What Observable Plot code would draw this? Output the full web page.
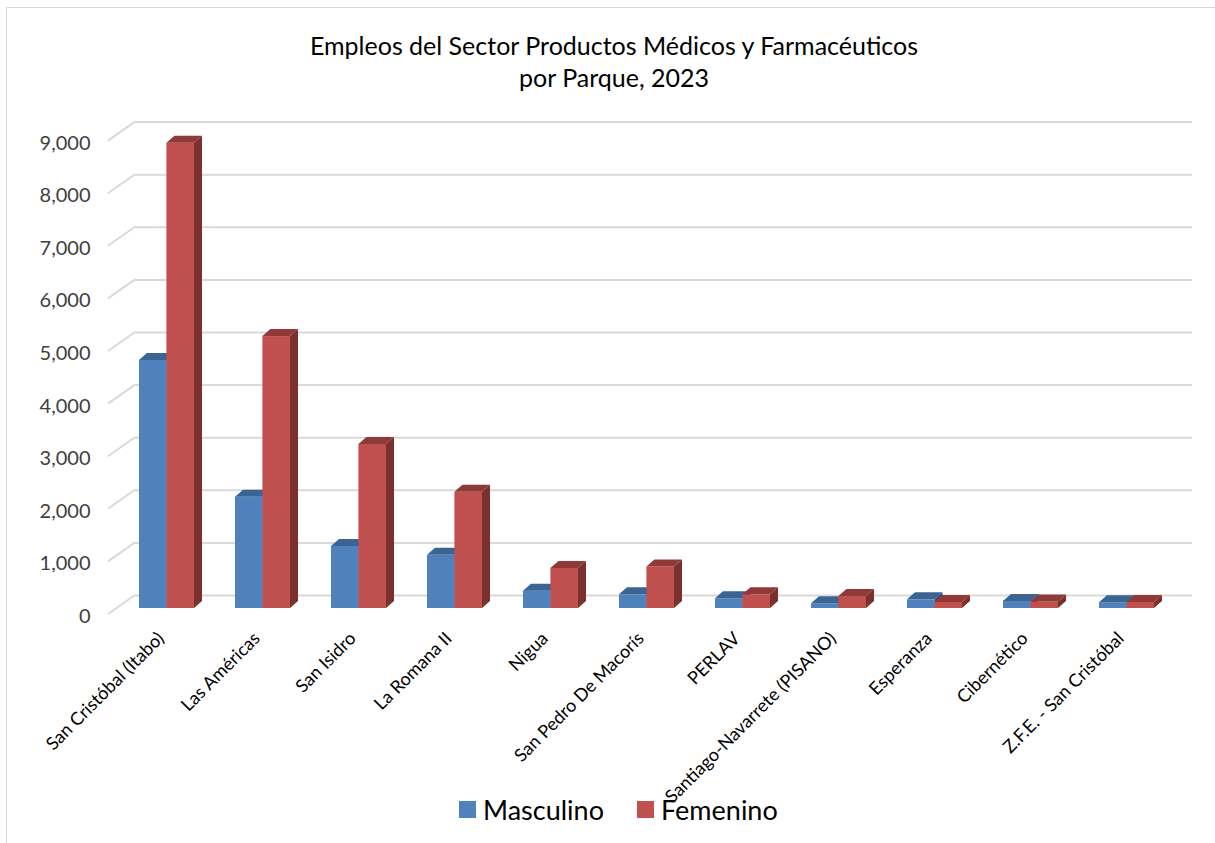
<!DOCTYPE html>
<html>
<head>
<meta charset="utf-8">
<script src="https://cdn.jsdelivr.net/npm/d3@7"></script>
<script src="https://cdn.jsdelivr.net/npm/@observablehq/plot@0.6"></script>
<style>
  html, body { margin: 0; padding: 0; background: #fff; overflow: hidden; }
  body { width: 1215px; height: 843px; position: relative; font-family: Lato, "Open Sans", sans-serif; }
  #border { position: absolute; left: 6px; top: 7px; width: 1400px; height: 1000px;
            border-top: 1px solid #d9d9d9; border-left: 1px solid #d9d9d9; pointer-events: none; }
  #title { height: 100px; box-sizing: border-box; padding-top: 29px; padding-left: 13px; text-align: center;
           font-size: 25px; line-height: 32px; color: #000; }
  #chart svg { display: block; overflow: visible; }
  #legend { height: 43px; position: relative; font-size: 27px; color: #000; }
  .item { position: absolute; top: 1px; display: flex; align-items: center; height: 17px; }
  .sw { width: 17px; height: 17px; display: inline-block; margin-right: 7px; }
</style>
</head>
<body>
<div id="border"></div>
<div id="title">Empleos del Sector Productos Médicos y Farmacéuticos<br>por Parque, 2023</div>
<div id="chart"></div>
<div id="legend">
  <div class="item" style="left:459px"><span class="sw" style="background:#4F81BD"></span><span>Masculino</span></div>
  <div class="item" style="left:637px"><span class="sw" style="background:#C0504D"></span><span>Femenino</span></div>
</div>
<script>
const categories = [
  "San Cristóbal (Itabo)", "Las Américas", "San Isidro", "La Romana II", "Nigua",
  "San Pedro De Macorís", "PERLAV", "Santiago-Navarrete (PISANO)", "Esperanza",
  "Cibernético", "Z.F.E. - San Cristóbal"
];
const masculino = [4715, 2115, 1180, 1010, 330, 260, 185, 90, 165, 135, 110];
const femenino  = [8845, 5170, 3120, 2210, 760, 790, 260, 230, 115, 125, 115];
const yTicks = [0, 1000, 2000, 3000, 4000, 5000, 6000, 7000, 8000, 9000];

const rowsM = categories.map((c, i) => ({parque: c, sexo: "Masculino", valor: masculino[i]}));
const rowsF = categories.map((c, i) => ({parque: c, sexo: "Femenino", valor: femenino[i]}));

const W = 1215, H = 700, mL = 117, mR = 40, mT = 34.6, mB = 192;
const padIn = 0.43;
const step = (W - mL - mR) / categories.length;
const half = step * (1 - padIn) / 2;

const plot = Plot.plot({
  width: W, height: H,
  marginLeft: mL, marginRight: mR, marginTop: mT, marginBottom: mB,
  style: {fontFamily: "Lato, 'Open Sans', sans-serif", background: "transparent", color: "#404040", overflow: "visible"},
  x: {domain: categories, paddingInner: padIn, paddingOuter: padIn / 2, axis: null},
  y: {domain: [0, 9000], axis: null},
  marks: [
    Plot.ruleY(yTicks, {stroke: "#d9d9d9", strokeWidth: 2, dx: 18, dy: -13, insetRight: 1}),
    Plot.axisY(yTicks, {tickSize: 0, tickPadding: 27, dy: 8, tickFormat: d3.format(","), fontSize: 20, label: null}),
    Plot.axisX({tickRotate: -45, tickSize: 0, tickPadding: 27, dx: -6, fontSize: 18, label: null, fill: "#000"}),
    Plot.barY(rowsM, {x: "parque", y: "valor", fill: "#4F81BD", insetRight: half}),
    Plot.barY(rowsF, {x: "parque", y: "valor", fill: "#C0504D", insetLeft: half})
  ]
});
document.getElementById("chart").appendChild(plot);

const svg = d3.select(plot);
const ys = plot.scale("y");

// diagonal floor/wall connectors at the front-left of each gridline
const diag = svg.insert("g", "g");
yTicks.forEach(t => {
  const yy = ys.apply(t);
  diag.append("line")
    .attr("x1", 108).attr("y1", yy + 6)
    .attr("x2", 135).attr("y2", yy - 13)
    .attr("stroke", "#d9d9d9").attr("stroke-width", 2);
});

// pseudo-3D faces for each bar
const DX = 8, DY = -7;
const faceColors = [
  {top: "#3B6393", side: "#2F4E75"},
  {top: "#8F3A38", side: "#7A302E"}
];
svg.selectAll('g[aria-label="bar"]').each(function(_, gi) {
  const g = d3.select(this);
  const c = faceColors[gi];
  g.selectAll("rect").nodes().forEach(node => {
    const x = +node.getAttribute("x"), y = +node.getAttribute("y");
    const w = +node.getAttribute("width"), h = +node.getAttribute("height");
    g.append("polygon")
      .attr("points", [[x, y], [x + DX, y + DY], [x + w + DX, y + DY], [x + w, y]].map(p => p.join(",")).join(" "))
      .attr("fill", c.top);
    g.append("polygon")
      .attr("points", [[x + w, y], [x + w + DX, y + DY], [x + w + DX, y + h + DY], [x + w, y + h]].map(p => p.join(",")).join(" "))
      .attr("fill", c.side);
  });
});
</script>
</body>
</html>
